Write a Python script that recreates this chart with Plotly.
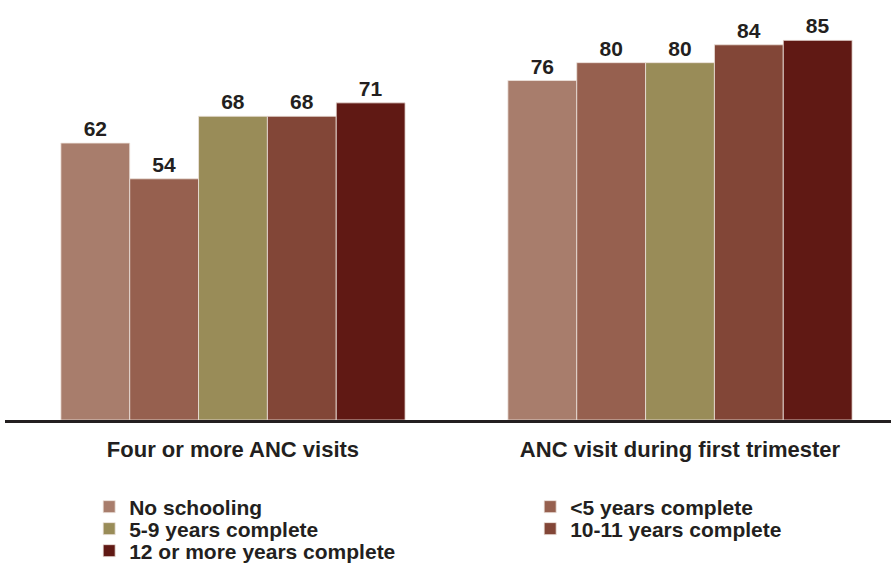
import plotly.graph_objects as go

categories = ["Four or more ANC visits", "ANC visit during first trimester"]
series_names = ["No schooling", "<5 years complete", "5-9 years complete",
                "10-11 years complete", "12 or more years complete"]
series_values = [
    [62, 76],
    [54, 80],
    [68, 80],
    [68, 84],
    [71, 85],
]
colors = ["#A87D6C", "#96604F", "#998C58", "#824637", "#601914"]
legend_rows = ["legend", "legend", "legend2", "legend2", "legend3"]

FONT = "Liberation Sans, Arial"
INK = "#231F20"

fig = go.Figure()
for name, vals, col, lg in zip(series_names, series_values, colors, legend_rows):
    fig.add_trace(go.Bar(
        x=categories, y=vals, name="<b>" + name + "</b>",
        marker=dict(color=col, line=dict(color="#EDE3DD", width=0.8)),
        texttemplate="<b>%{y}</b>", textposition="outside",
        textfont=dict(family=FONT, size=21, color=INK),
        cliponaxis=False, legend=lg,
    ))

def leg(y):
    return dict(
        orientation="h", x=0.095, y=y, xanchor="left", yanchor="middle",
        entrywidth=396, entrywidthmode="pixels", itemwidth=30,
        font=dict(size=21, color=INK, family=FONT),
        tracegroupgap=0, traceorder="normal", bgcolor="rgba(0,0,0,0)",
    )

fig.update_layout(
    width=891, height=563,
    margin=dict(l=5, r=0, t=18, b=143, autoexpand=False),
    paper_bgcolor="white", plot_bgcolor="white",
    barmode="group", bargap=0.23, bargroupgap=0,
    font=dict(family=FONT, color=INK),
    showlegend=True,
    legend=leg(-0.2164), legend2=leg(-0.2711), legend3=leg(-0.3259),
)
fig.update_xaxes(
    range=[-0.51, 1.472], showline=True, linecolor=INK, linewidth=3,
    ticks="", showgrid=False,
    tickfont=dict(size=22, color=INK, family=FONT),
    tickvals=categories, ticktext=["<b>" + c + "</b>" for c in categories],
    ticklabelstandoff=8,
)
fig.update_yaxes(range=[0, 90], visible=False, showgrid=False, zeroline=False)

fig.write_html("out.html", config={"displayModeBar": False},
               post_script="document.body.style.margin='0';document.body.style.padding='0';document.body.style.overflow='hidden';")
